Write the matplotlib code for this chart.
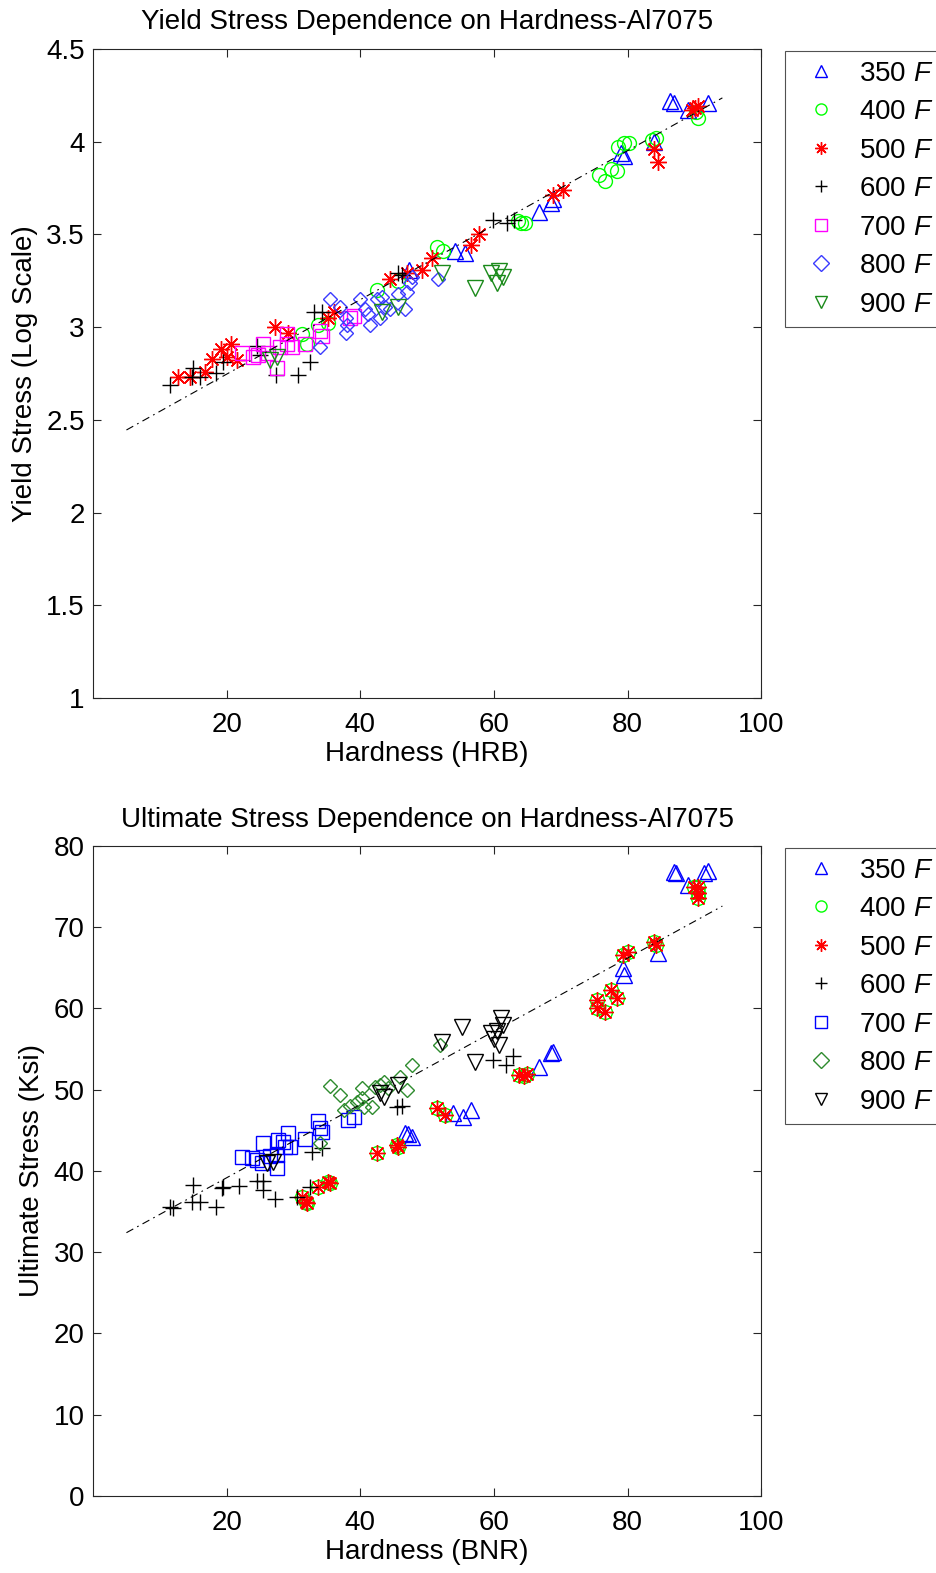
import numpy as np
import matplotlib
matplotlib.use('Agg')
import matplotlib.pyplot as plt
from matplotlib.lines import Line2D

plt.rcParams['font.family'] = ['Liberation Sans', 'DejaVu Sans']
plt.rcParams['mathtext.fontset'] = 'custom'
plt.rcParams['mathtext.it'] = 'Liberation Sans:italic'
plt.rcParams['mathtext.rm'] = 'Liberation Sans'
plt.rcParams['font.size'] = 20

# ---- data: yield stress (log scale) vs hardness (HRB) ----
y350_x = [86.4, 86.9, 92.1, 89.0, 79.1, 79.4, 84.0, 68.5, 68.9, 66.7, 54.2, 55.7, 47.3]
y350_y = [4.22, 4.21, 4.21, 4.17, 3.94, 3.92, 4.00, 3.67, 3.69, 3.62, 3.41, 3.40, 3.31]

y400_x = [78.6, 79.4, 80.2, 75.7, 76.7, 77.5, 78.5, 64.0, 64.7, 63.6, 83.7, 84.2, 90.5,
          90.3, 51.5, 52.4, 42.5, 45.7, 33.7, 35.2, 31.3, 32.0]
y400_y = [3.97, 3.99, 3.99, 3.82, 3.79, 3.85, 3.84, 3.56, 3.56, 3.57, 4.01, 4.02, 4.13,
          4.16, 3.43, 3.41, 3.20, 3.25, 3.01, 3.02, 2.96, 2.91]

y500_x = [12.7, 14.5, 16.8, 17.8, 19.2, 20.1, 20.7, 21.6, 27.3, 29.2, 35.2, 36.0, 44.5,
          47.0, 49.3, 50.8, 56.5, 57.8, 68.9, 70.3, 83.9, 84.5, 89.7, 90.5, 90.1]
y500_y = [2.73, 2.73, 2.76, 2.83, 2.88, 2.84, 2.91, 2.82, 3.00, 2.97, 3.05, 3.08, 3.26,
          3.29, 3.31, 3.37, 3.44, 3.50, 3.71, 3.74, 3.96, 3.89, 4.17, 4.19, 4.18]

y600_x = [11.5, 14.8, 15.0, 16.0, 18.4, 19.5, 24.6, 25.0, 27.4, 30.7, 32.5, 33.0, 34.3,
          45.7, 46.3, 59.8, 62.0, 63.0]
y600_y = [2.69, 2.73, 2.78, 2.73, 2.75, 2.81, 2.90, 2.85, 2.74, 2.74, 2.81, 3.08, 3.08,
          3.29, 3.28, 3.58, 3.56, 3.58]

y700_x = [22.3, 24.0, 25.5, 24.7, 26.2, 27.6, 28.0, 29.0, 29.8, 29.0, 31.8, 34.0, 34.3, 38.5, 39.0]
y700_y = [2.86, 2.84, 2.91, 2.85, 2.86, 2.78, 2.89, 2.91, 2.89, 2.96, 2.91, 2.98, 2.95, 3.05, 3.06]

y800_x = [35.5, 37.0, 37.8, 38.0, 37.8, 40.0, 40.7, 41.2, 41.5, 42.5, 43.2, 43.7, 43.0,
          44.5, 45.7, 47.0, 46.7, 47.8, 47.5, 51.7, 34.0]
y800_y = [3.15, 3.11, 3.05, 3.01, 2.97, 3.15, 3.10, 3.07, 3.01, 3.15, 3.16, 3.11, 3.05,
          3.10, 3.18, 3.19, 3.10, 3.27, 3.24, 3.26, 2.89]

y900_x = [26.5, 27.5, 43.3, 45.7, 52.3, 57.2, 59.5, 60.7, 61.3, 60.5]
y900_y = [2.82, 2.84, 3.08, 3.11, 3.29, 3.21, 3.29, 3.30, 3.27, 3.24]

yfit_x = [5.0, 94.2]
yfit_y = [2.445, 4.236]

# ---- data: ultimate stress vs hardness (BNR) ----
u350_x = [86.9, 87.3, 91.4, 92.1, 89.1, 79.3, 79.4, 84.5, 68.5, 68.9, 66.7, 53.9, 55.4,
          56.5, 46.7, 47.2, 47.8]
u350_y = [76.8, 76.7, 76.7, 76.9, 75.2, 65.0, 64.1, 66.8, 54.5, 54.6, 52.8, 47.1, 46.6,
          47.5, 44.7, 44.5, 44.2]

u500_x = [90.5, 90.6, 90.6, 89.9, 83.9, 84.2, 79.3, 80.0, 77.5, 78.5, 75.5, 75.5, 76.7,
          63.8, 64.5, 65.0, 51.5, 52.7, 45.5, 45.7, 42.5, 35.2, 35.5, 33.6, 31.3, 31.9, 32.0]
u500_y = [74.9, 74.2, 73.6, 74.9, 68.2, 67.8, 66.6, 67.0, 62.3, 61.3, 61.0, 60.1, 59.6,
          51.8, 51.7, 51.9, 47.8, 46.9, 43.2, 43.0, 42.2, 38.6, 38.5, 38.0, 36.8, 36.2, 36.1]
# 400 F points sit under the 500 F points in this plot
u400_x = list(u500_x)
u400_y = list(u500_y)

u600_x = [11.5, 12.0, 14.8, 16.0, 15.0, 18.4, 19.3, 19.5, 21.9, 24.6, 25.5, 25.5, 27.3,
          30.6, 32.5, 32.8, 34.3, 45.5, 46.3, 59.8, 61.8, 62.9]
u600_y = [35.6, 35.4, 36.2, 36.2, 38.3, 35.6, 37.9, 38.0, 38.2, 38.8, 38.8, 37.7, 36.5,
          36.8, 38.0, 42.3, 42.8, 47.9, 48.0, 53.7, 53.1, 54.2]

u700_x = [22.3, 23.8, 24.6, 25.5, 26.5, 27.6, 27.7, 28.5, 29.2, 29.5, 28.8, 27.6, 25.3,
          31.8, 33.6, 34.3, 34.0, 38.2, 39.0]
u700_y = [41.7, 41.6, 41.4, 43.4, 41.8, 42.0, 43.8, 43.6, 44.7, 42.9, 42.9, 40.4, 41.0,
          43.9, 46.2, 44.8, 45.3, 46.3, 46.7]

u800_x = [35.5, 37.0, 37.5, 40.3, 40.3, 40.5, 41.8, 42.2, 43.0, 43.6, 44.2, 46.0, 47.0,
          47.8, 52.0, 34.0, 38.5, 39.5]
u800_y = [50.5, 49.4, 47.5, 50.2, 49.0, 47.9, 47.9, 50.3, 50.6, 51.0, 50.2, 51.6, 50.0,
          53.0, 55.5, 43.4, 48.0, 48.5]

u900_x = [26.0, 27.0, 43.0, 43.5, 45.7, 52.3, 55.3, 57.2, 59.5, 60.5, 61.0, 61.3, 60.7, 60.0]
u900_y = [41.0, 41.1, 49.6, 49.1, 50.6, 55.9, 57.7, 53.4, 57.0, 57.2, 58.8, 58.0, 55.5, 56.3]

ufit_x = [5.0, 94.2]
ufit_y = [32.4, 72.6]

temps = ['350', '400', '500', '600', '700', '800', '900']
labels = [t + ' $F$' for t in temps]

ASTER = (8, 2, 0)
top_styles = [('^', '#0000ff'), ('o', '#00ff00'), (ASTER, '#ff0000'), ('+', 'k'),
              ('s', '#ff00ff'), ('D', '#3a3aff'), ('v', '#1a8a1a')]
bot_styles = [('^', '#0000ff'), ('o', '#00ff00'), (ASTER, '#ff0000'), ('+', 'k'),
              ('s', '#0000ff'), ('D', '#2e8b2e'), ('v', 'k')]


def marker_size(m):
    if m == 'D':
        return 7
    if m in ('s', 'o'):
        return 10
    if m == ASTER:
        return 12
    return 11


def draw(ax, series, styles, fit_x, fit_y):
    for (xs, ys), (m, c) in zip(series, styles):
        ax.plot(xs, ys, linestyle='none', marker=m, markersize=marker_size(m),
                markerfacecolor='none', markeredgecolor=c, markeredgewidth=1.0)
    ax.plot(fit_x, fit_y, color='k', lw=0.8, linestyle=(0, (7, 4, 1.5, 4)))
    handles = [Line2D([], [], linestyle='none', marker=m,
                      markersize=9 if m == ASTER else 8,
                      markerfacecolor='none', markeredgecolor=c, markeredgewidth=1.0)
               for m, c in styles]
    leg = ax.legend(handles, labels, loc='upper left', bbox_to_anchor=(1.035, 0.997),
                    borderaxespad=0, fancybox=False, frameon=True, fontsize=20,
                    handlelength=1.95, handletextpad=0.38, labelspacing=0.45,
                    borderpad=0.35)
    leg.get_frame().set_edgecolor('#262626')
    leg.get_frame().set_linewidth(0.8)
    ax.set_xlim(0, 100)
    ax.set_xticks([20, 40, 60, 80, 100])
    ax.tick_params(direction='in', top=True, right=True, length=6, width=0.8,
                   labelsize=20, color='#262626')
    ax.tick_params(axis='x', pad=10)
    ax.tick_params(axis='y', pad=6)
    for s in ax.spines.values():
        s.set_linewidth(0.8)
        s.set_color('#262626')


fig = plt.figure(figsize=(9.37, 15.73), dpi=100)
ax1 = fig.add_axes([0.0993, 0.5563, 0.7130, 0.4126])
ax2 = fig.add_axes([0.0993, 0.0490, 0.7130, 0.4132])

top_series = [(y350_x, y350_y), (y400_x, y400_y), (y500_x, y500_y), (y600_x, y600_y),
              (y700_x, y700_y), (y800_x, y800_y), (y900_x, y900_y)]
draw(ax1, top_series, top_styles, yfit_x, yfit_y)
ax1.set_ylim(1, 4.5)
ax1.set_yticks(np.arange(1, 4.51, 0.5))
ax1.set_yticklabels(['1', '1.5', '2', '2.5', '3', '3.5', '4', '4.5'])
ax1.set_title('Yield Stress Dependence on Hardness-Al7075', fontsize=20, pad=14)
ax1.set_xlabel('Hardness (HRB)', fontsize=20, labelpad=2)
ax1.set_ylabel('Yield Stress (Log Scale)', fontsize=20, labelpad=6)

bot_series = [(u350_x, u350_y), (u400_x, u400_y), (u500_x, u500_y), (u600_x, u600_y),
              (u700_x, u700_y), (u800_x, u800_y), (u900_x, u900_y)]
draw(ax2, bot_series, bot_styles, ufit_x, ufit_y)
ax2.set_ylim(0, 80)
ax2.set_yticks(np.arange(0, 81, 10))
ax2.set_title('Ultimate Stress Dependence on Hardness-Al7075', fontsize=20, pad=14)
ax2.set_xlabel('Hardness (BNR)', fontsize=20, labelpad=2)
ax2.set_ylabel('Ultimate Stress (Ksi)', fontsize=20, labelpad=6)

fig.savefig('out.png', dpi=100)
